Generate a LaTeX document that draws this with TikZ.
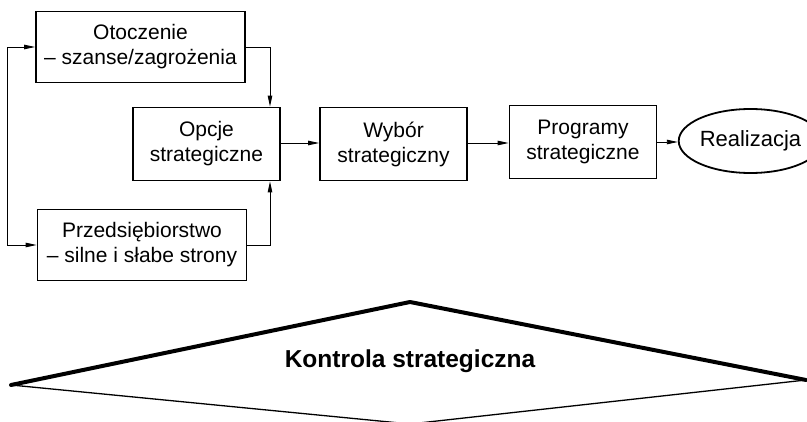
\documentclass[tikz,border=0pt]{standalone}
\usepackage{fontspec}
\setmainfont{Liberation Sans}
\usetikzlibrary{arrows.meta,shapes.geometric}

\begin{document}
\begin{tikzpicture}[x=1pt,y=-1pt,
  box/.style={draw, line width=1.8pt, align=center, inner sep=0pt,
    font=\fontsize{21}{25}\selectfont},
  wide/.style={box, minimum width=209pt, minimum height=71pt},
  mid/.style={box, minimum width=147pt, minimum height=73pt},
  oval/.style={draw, ellipse, line width=1.8pt, inner sep=0pt,
    minimum width=111pt, minimum height=64pt,
    font=\fontsize{22}{25}\selectfont},
  link/.style={line width=0.9pt, -{Triangle[length=11pt,width=4.5pt]}},
  link2/.style={line width=0.9pt,
    {Triangle[length=11pt,width=4.5pt]}-{Triangle[length=11pt,width=4.5pt]}}]
\useasboundingbox (0,0) rectangle (807,422);
\clip (0,0) rectangle (807,422);

% analysis boxes
\node[wide] (ot) at (140.5,47) {Otoczenie\\– szanse/zagrożenia};
\node[wide] (pr) at (142,245) {Przedsiębiorstwo\\– silne i słabe strony};

% main chain
\node[mid] (op) at (206.5,144) {Opcje\\strategiczne};
\node[mid] (wy) at (393.5,144) {Wybór\\strategiczny};
\node[mid] (pg) at (583,142) {Programy\\strategiczne};
\node[oval] (re) at (750.5,141) {Realizacja};

% connectors
\draw[link2] (ot.west) -- ++(-28pt,0) |- (pr.west);
\draw[link] (ot.east) -| ([xshift=63.5pt]op.north);
\draw[link] (pr.east) -| ([xshift=63.5pt]op.south);
\draw[link] (op.east |- 0,143) -- (wy.west |- 0,143);
\draw[link] (wy.east |- 0,143) -- (pg.west |- 0,143);
\draw[link] (pg.east |- 0,142) -- (re.west |- 0,142);

% strategic control
\coordinate (kl) at (11,385);
\coordinate (kt) at (410,302);
\coordinate (kr) at (806,380);
\coordinate (kb) at (410,424);
\draw[line width=1.3pt, line join=round] (kl) -- (kb) -- (kr);
\draw[line width=4pt, line join=round, line cap=round] (kl) -- (kt) -- (kr);
\node[font=\fontsize{24.5}{28}\selectfont\bfseries] (kt-label) at (410,361)
  {Kontrola strategiczna};
\end{tikzpicture}
\end{document}
